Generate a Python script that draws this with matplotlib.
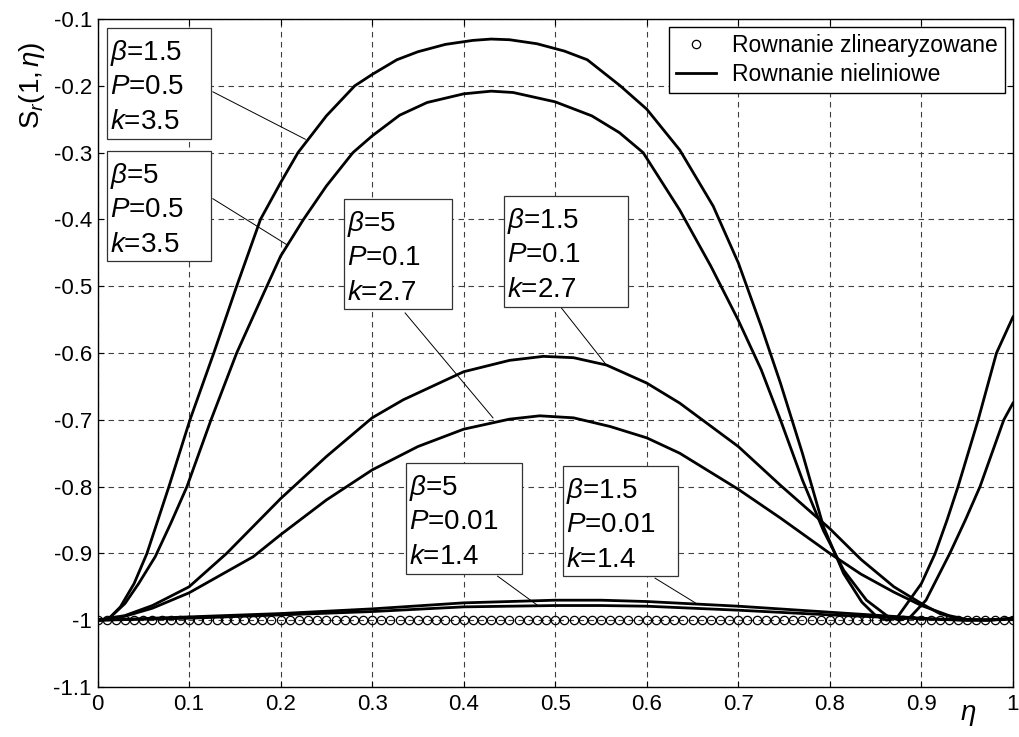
import matplotlib
matplotlib.use('Agg')
import matplotlib.pyplot as plt
from matplotlib.patches import Rectangle
import numpy as np

plt.rcParams['font.family'] = 'Liberation Sans'
plt.rcParams['mathtext.fontset'] = 'custom'
plt.rcParams['mathtext.rm'] = 'Liberation Sans'
plt.rcParams['mathtext.it'] = 'Liberation Sans:italic'

# rownanie zlinearyzowane (punkty co 0.01)
lin_x = np.linspace(0, 1, 101)
lin_y = [-1.0] * 101

# beta=1.5, P=0.5, k=3.5
a_x = [0.0, 0.012, 0.025, 0.04, 0.054, 0.078, 0.101, 0.127, 0.152, 0.178, 0.2, 0.219, 0.25, 0.281,
       0.3, 0.327, 0.35, 0.38, 0.41, 0.43, 0.45, 0.48, 0.51, 0.535, 0.571, 0.6, 0.636, 0.6725,
       0.7, 0.725, 0.746, 0.77, 0.793, 0.815, 0.835, 0.85, 0.862, 0.874, 0.887, 0.9, 0.915,
       0.928, 0.94, 0.951, 0.962, 0.972, 0.982, 1.0]
a_y = [-1.0, -0.998, -0.98, -0.945, -0.9, -0.8, -0.7, -0.6, -0.5, -0.4, -0.345, -0.3, -0.245, -0.2,
       -0.183, -0.161, -0.149, -0.138, -0.132, -0.13, -0.131, -0.137, -0.148, -0.161, -0.2, -0.235, -0.296, -0.38,
       -0.465, -0.56, -0.645, -0.75, -0.86, -0.93, -0.973, -0.993, -1.0, -0.995, -0.97, -0.945, -0.9,
       -0.85, -0.8, -0.75, -0.7, -0.65, -0.6, -0.546]

# beta=5, P=0.5, k=3.5
b_x = [0.0, 0.012, 0.03, 0.045, 0.063, 0.08, 0.0977, 0.124, 0.152, 0.185, 0.2, 0.225, 0.25, 0.279,
       0.3, 0.33, 0.36, 0.4, 0.43, 0.454, 0.5, 0.54, 0.57, 0.596, 0.636, 0.67, 0.7, 0.725, 0.746,
       0.77, 0.793, 0.815, 0.84, 0.864, 0.876, 0.888, 0.905, 0.931, 0.948, 0.964, 0.977, 0.99, 1.0]
b_y = [-1.0, -0.998, -0.975, -0.945, -0.905, -0.855, -0.8, -0.7, -0.6, -0.5, -0.455, -0.4, -0.35, -0.3,
       -0.275, -0.244, -0.225, -0.212, -0.208, -0.21, -0.224, -0.245, -0.27, -0.3, -0.386, -0.47, -0.551, -0.625, -0.7,
       -0.79, -0.866, -0.925, -0.97, -0.995, -1.0, -0.995, -0.97, -0.9, -0.85, -0.8, -0.75, -0.7, -0.675]

# beta=1.5, P=0.1, k=2.7
c_x = [0.0, 0.03, 0.06, 0.1, 0.141, 0.2, 0.25, 0.3, 0.334, 0.4, 0.45, 0.487, 0.52, 0.556, 0.6,
       0.636, 0.7, 0.746, 0.8, 0.834, 0.87, 0.9, 0.92, 0.94, 0.97, 1.0]
c_y = [-1.0, -0.993, -0.978, -0.95, -0.9, -0.818, -0.755, -0.697, -0.67, -0.628, -0.611, -0.605, -0.607, -0.618, -0.645,
       -0.675, -0.74, -0.798, -0.863, -0.909, -0.95, -0.975, -0.99, -0.998, -1.0, -0.997]

# beta=5, P=0.1, k=2.7
d_x = [0.0, 0.03, 0.06, 0.1, 0.17, 0.2, 0.25, 0.3, 0.35, 0.4, 0.45, 0.483, 0.52, 0.56, 0.6,
       0.636, 0.7, 0.746, 0.8, 0.834, 0.87, 0.9, 0.93, 0.95, 0.975, 1.0]
d_y = [-1.0, -0.994, -0.982, -0.959, -0.905, -0.872, -0.82, -0.775, -0.74, -0.714, -0.699, -0.694, -0.697, -0.71, -0.727,
       -0.75, -0.804, -0.847, -0.9, -0.931, -0.958, -0.978, -0.993, -0.999, -1.0, -0.997]

# beta=1.5 / beta=5, P=0.01, k=1.4
e_x = [0.0, 0.1, 0.2, 0.3, 0.4, 0.5, 0.55, 0.6, 0.7, 0.8, 0.9, 0.95, 0.99, 1.0]
e_y = [-1.0, -0.995, -0.99, -0.983, -0.974, -0.97, -0.97, -0.972, -0.979, -0.988, -0.997, -1.0, -0.999, -0.996]
f_y = [-1.0, -0.997, -0.992, -0.987, -0.98, -0.978, -0.978, -0.979, -0.985, -0.992, -0.998, -1.0, -0.999, -0.997]

x_ticks = [0, 0.1, 0.2, 0.3, 0.4, 0.5, 0.6, 0.7, 0.8, 0.9, 1.0]
x_labels = ['0', '0.1', '0.2', '0.3', '0.4', '0.5', '0.6', '0.7', '0.8', '0.9', '1']
y_ticks = [-1.1, -1.0, -0.9, -0.8, -0.7, -0.6, -0.5, -0.4, -0.3, -0.2, -0.1]
y_labels = ['-1.1', '-1', '-0.9', '-0.8', '-0.7', '-0.6', '-0.5', '-0.4', '-0.3', '-0.2', '-0.1']

# opisy: tekst, ramka (x0, x1, y_gora, y_dol), linia (x0, y0, x1, y1)
opisy = [
    (['1.5', '0.5', '3.5'], (0.0104, 0.124, -0.1135, -0.2796), (0.126, -0.209, 0.227, -0.28)),
    (['5', '0.5', '3.5'], (0.0104, 0.124, -0.2976, -0.4623), (0.126, -0.369, 0.207, -0.438)),
    (['5', '0.1', '2.7'], (0.2692, 0.3873, -0.3695, -0.5341), (0.336, -0.54, 0.432, -0.697)),
    (['1.5', '0.1', '2.7'], (0.444, 0.5795, -0.365, -0.531), (0.507, -0.533, 0.5565, -0.619)),
    (['5', '0.01', '1.4'], (0.337, 0.4637, -0.7647, -0.9308), (0.437, -0.934, 0.48, -0.977)),
    (['1.5', '0.01', '1.4'], (0.5085, 0.6341, -0.7692, -0.9338), (0.609, -0.937, 0.653, -0.974)),
]

fig = plt.figure(figsize=(10.2, 7.37), dpi=100)
ax = fig.add_axes([0.0956, 0.0678, 0.8975, 0.9064])

ax.plot(lin_x, lin_y, 'o', mfc='none', mec='k', ms=6, mew=0.9, label='Rownanie zlinearyzowane')
ax.plot(a_x, a_y, 'k-', lw=2, label='Rownanie nieliniowe')
ax.plot(b_x, b_y, 'k-', lw=2)
ax.plot(c_x, c_y, 'k-', lw=2)
ax.plot(d_x, d_y, 'k-', lw=2)
ax.plot(e_x, e_y, 'k-', lw=2)
ax.plot(e_x, f_y, 'k-', lw=2)

for vals, box, lead in opisy:
    x0, x1, yt, yb = box
    ax.plot([lead[0], lead[2]], [lead[1], lead[3]], 'k-', lw=0.7, zorder=3)
    ax.add_patch(Rectangle((x0, yb), x1 - x0, yt - yb, facecolor='white',
                           edgecolor='0.2', lw=0.9, zorder=4))
    lines = [r'$\beta$=' + vals[0], r'$P$=' + vals[1], r'$k$=' + vals[2]]
    for i, t in enumerate(lines):
        ax.annotate(t, xy=(x0, yt), xytext=(2.0, -23 - i * 24.8), textcoords='offset points',
                    va='baseline', ha='left', fontsize=20, zorder=5)

ax.set_xlim(0, 1)
ax.set_ylim(-1.1, -0.1)
ax.set_xticks(x_ticks)
ax.set_xticklabels(x_labels)
ax.set_yticks(y_ticks)
ax.set_yticklabels(y_labels)
ax.tick_params(direction='in', top=True, right=True, length=4, width=0.8, labelsize=16)
ax.tick_params(axis='x', pad=5)
ax.tick_params(axis='y', pad=4)
ax.grid(True, color='0.25', linestyle=(0, (5, 4)), lw=0.8)
for s in ax.spines.values():
    s.set_linewidth(1.0)

ax.text(-0.072, 0.90, r'S$_r$(1,$\,\eta$)', transform=ax.transAxes, rotation=90,
        ha='center', va='center', fontsize=20)
ax.text(0.951, -0.042, r'$\eta$', transform=ax.transAxes, ha='center', va='center', fontsize=20)

leg = ax.legend(loc='upper right', fontsize=16.5, fancybox=False, framealpha=1, edgecolor='k',
                handlelength=1.75, handletextpad=0.7, borderpad=0.3, labelspacing=0.25, borderaxespad=0.35)
leg.get_frame().set_linewidth(1.0)

fig.savefig('out.png', dpi=100)
